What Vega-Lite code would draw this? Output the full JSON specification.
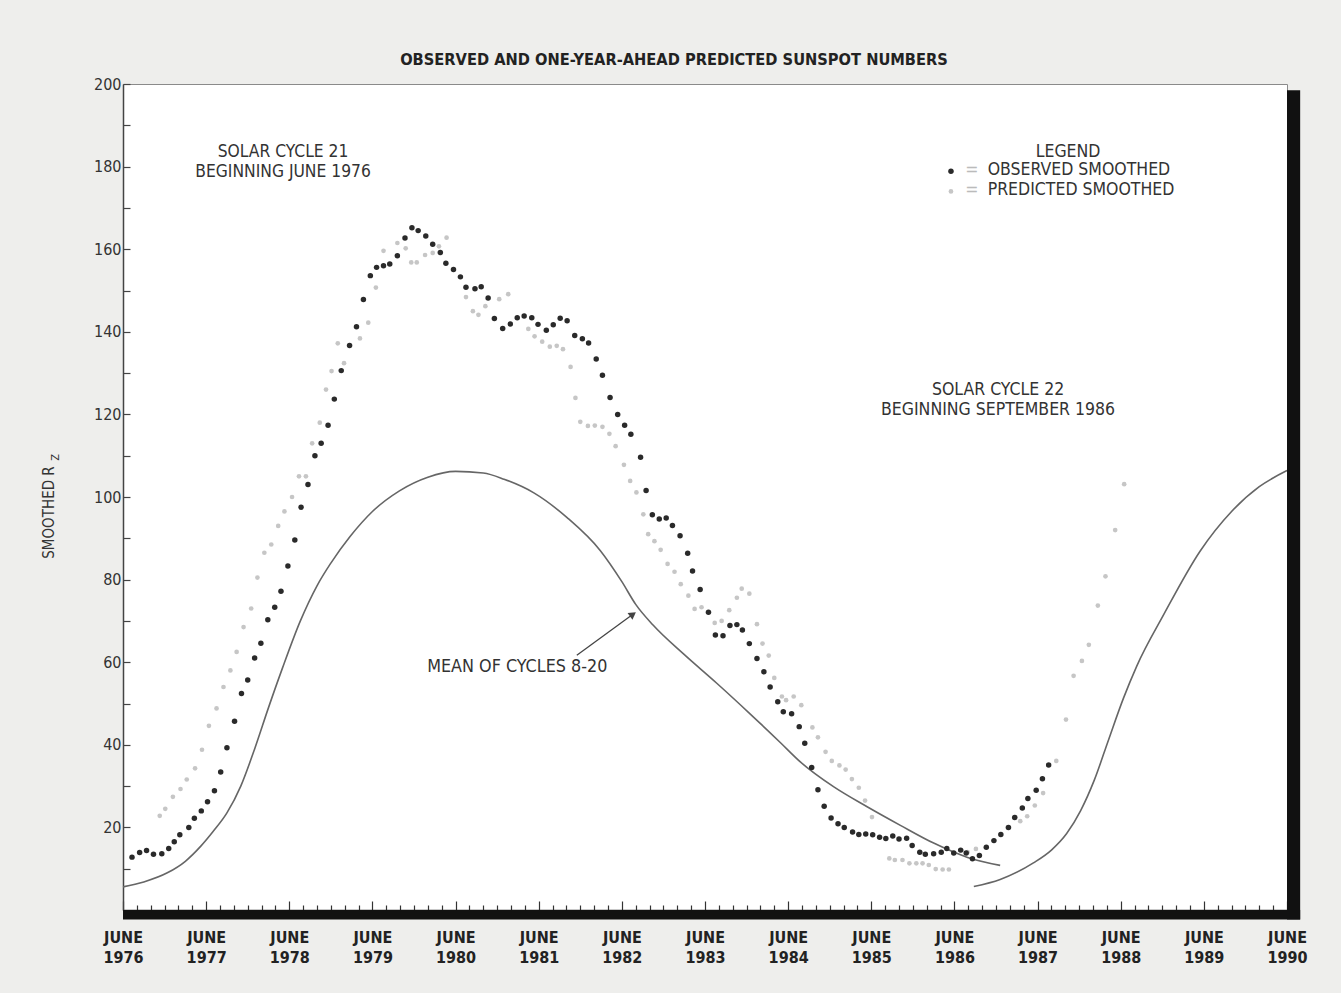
{
  "$schema": "https://vega.github.io/schema/vega-lite/v6.json",
  "autosize": {"type": "none"},
  "width": 1164,
  "height": 826,
  "padding": {"left": 123, "top": 84, "right": 54, "bottom": 83},
  "background": "#eeeeec",
  "title": {
    "text": "OBSERVED AND ONE-YEAR-AHEAD PREDICTED SUNSPOT NUMBERS",
    "anchor": "middle",
    "dx": -31,
    "offset": 8,
    "font": "DejaVu Sans Condensed",
    "fontSize": 16.3,
    "fontWeight": "bold",
    "color": "#222222"
  },
  "config": {
    "view": {"fill": "white", "stroke": "#8a8a8a", "strokeWidth": 1},
    "font": "DejaVu Sans Condensed"
  },
  "datasets": {
    "observed": [
      {"month": 1.3, "rz": 12.8}, {"month": 2.4, "rz": 13.9}, {"month": 3.4, "rz": 14.4}, {"month": 4.4, "rz": 13.5},
      {"month": 5.6, "rz": 13.6}, {"month": 6.6, "rz": 14.9}, {"month": 7.4, "rz": 16.5}, {"month": 8.2, "rz": 18.2},
      {"month": 9.5, "rz": 20.0}, {"month": 10.3, "rz": 22.2}, {"month": 11.3, "rz": 24.0}, {"month": 12.2, "rz": 26.2},
      {"month": 13.2, "rz": 28.9}, {"month": 14.1, "rz": 33.4}, {"month": 15.0, "rz": 39.3}, {"month": 16.1, "rz": 45.7},
      {"month": 17.1, "rz": 52.4}, {"month": 18.0, "rz": 55.7}, {"month": 19.0, "rz": 61.0}, {"month": 19.9, "rz": 64.6},
      {"month": 20.9, "rz": 70.3}, {"month": 21.9, "rz": 73.3}, {"month": 22.8, "rz": 77.2}, {"month": 23.8, "rz": 83.3},
      {"month": 24.8, "rz": 89.6}, {"month": 25.7, "rz": 97.5}, {"month": 26.7, "rz": 103.0}, {"month": 27.7, "rz": 110.0},
      {"month": 28.6, "rz": 113.0}, {"month": 29.6, "rz": 117.4}, {"month": 30.5, "rz": 123.7}, {"month": 31.5, "rz": 130.6},
      {"month": 32.7, "rz": 136.7}, {"month": 33.7, "rz": 141.2}, {"month": 34.7, "rz": 147.8}, {"month": 35.7, "rz": 153.6},
      {"month": 36.6, "rz": 155.6}, {"month": 37.6, "rz": 156.0}, {"month": 38.5, "rz": 156.4}, {"month": 39.6, "rz": 158.4},
      {"month": 40.7, "rz": 162.7}, {"month": 41.7, "rz": 165.2}, {"month": 42.6, "rz": 164.5}, {"month": 43.7, "rz": 163.2},
      {"month": 44.7, "rz": 161.2}, {"month": 45.8, "rz": 159.2}, {"month": 46.6, "rz": 156.6}, {"month": 47.7, "rz": 155.1},
      {"month": 48.7, "rz": 153.3}, {"month": 49.5, "rz": 150.8}, {"month": 50.8, "rz": 150.4}, {"month": 51.7, "rz": 150.9},
      {"month": 52.7, "rz": 148.2}, {"month": 53.6, "rz": 143.2}, {"month": 54.8, "rz": 140.8}, {"month": 55.9, "rz": 141.9},
      {"month": 56.9, "rz": 143.4}, {"month": 57.9, "rz": 143.8}, {"month": 59.0, "rz": 143.4}, {"month": 59.9, "rz": 141.8},
      {"month": 61.1, "rz": 140.4}, {"month": 62.1, "rz": 141.7}, {"month": 63.1, "rz": 143.3}, {"month": 64.1, "rz": 142.7},
      {"month": 65.2, "rz": 139.1}, {"month": 66.3, "rz": 138.3}, {"month": 67.2, "rz": 137.3}, {"month": 68.3, "rz": 133.4},
      {"month": 69.2, "rz": 129.5}, {"month": 70.3, "rz": 124.1}, {"month": 71.4, "rz": 120.0}, {"month": 72.4, "rz": 117.4},
      {"month": 73.3, "rz": 115.2}, {"month": 74.7, "rz": 109.6}, {"month": 75.5, "rz": 101.6}, {"month": 76.4, "rz": 95.7},
      {"month": 77.4, "rz": 94.7}, {"month": 78.4, "rz": 94.9}, {"month": 79.3, "rz": 93.1}, {"month": 80.4, "rz": 90.6},
      {"month": 81.5, "rz": 86.4}, {"month": 82.2, "rz": 82.1}, {"month": 83.3, "rz": 77.6}, {"month": 84.5, "rz": 72.1},
      {"month": 85.5, "rz": 66.6}, {"month": 86.6, "rz": 66.4}, {"month": 87.6, "rz": 68.9}, {"month": 88.6, "rz": 69.1},
      {"month": 89.4, "rz": 67.8}, {"month": 90.4, "rz": 64.5}, {"month": 91.5, "rz": 60.9}, {"month": 92.5, "rz": 57.7},
      {"month": 93.4, "rz": 54.0}, {"month": 94.5, "rz": 50.4}, {"month": 95.3, "rz": 48.0}, {"month": 96.5, "rz": 47.5},
      {"month": 97.6, "rz": 44.4}, {"month": 98.4, "rz": 40.4}, {"month": 99.4, "rz": 34.5}, {"month": 100.3, "rz": 29.1},
      {"month": 101.2, "rz": 25.1}, {"month": 102.2, "rz": 22.3}, {"month": 103.2, "rz": 20.9}, {"month": 104.1, "rz": 20.0},
      {"month": 105.3, "rz": 18.9}, {"month": 106.2, "rz": 18.3}, {"month": 107.2, "rz": 18.4}, {"month": 108.2, "rz": 18.2},
      {"month": 109.2, "rz": 17.6}, {"month": 110.1, "rz": 17.3}, {"month": 111.1, "rz": 17.9}, {"month": 112.0, "rz": 17.2},
      {"month": 113.1, "rz": 17.4}, {"month": 113.9, "rz": 15.6}, {"month": 115.0, "rz": 14.0}, {"month": 115.8, "rz": 13.5},
      {"month": 117.0, "rz": 13.6}, {"month": 118.1, "rz": 14.0}, {"month": 118.9, "rz": 14.9}, {"month": 119.9, "rz": 13.8},
      {"month": 120.9, "rz": 14.5}, {"month": 121.7, "rz": 13.8}, {"month": 122.6, "rz": 12.4}, {"month": 123.6, "rz": 13.2},
      {"month": 124.6, "rz": 15.2}, {"month": 125.7, "rz": 16.8}, {"month": 126.7, "rz": 18.3}, {"month": 127.8, "rz": 20.0},
      {"month": 128.7, "rz": 22.4}, {"month": 129.8, "rz": 24.7}, {"month": 130.6, "rz": 27.0}, {"month": 131.8, "rz": 29.0},
      {"month": 132.7, "rz": 31.8}, {"month": 133.6, "rz": 35.1}
    ],
    "predicted": [
      {"month": 5.3, "rz": 22.8}, {"month": 6.1, "rz": 24.5}, {"month": 7.2, "rz": 27.4}, {"month": 8.3, "rz": 29.3},
      {"month": 9.2, "rz": 31.6}, {"month": 10.4, "rz": 34.3}, {"month": 11.4, "rz": 38.8}, {"month": 12.4, "rz": 44.6},
      {"month": 13.5, "rz": 48.8}, {"month": 14.5, "rz": 54.0}, {"month": 15.5, "rz": 58.0}, {"month": 16.4, "rz": 62.5},
      {"month": 17.4, "rz": 68.5}, {"month": 18.5, "rz": 73.0}, {"month": 19.4, "rz": 80.5}, {"month": 20.4, "rz": 86.5},
      {"month": 21.4, "rz": 88.5}, {"month": 22.4, "rz": 93.0}, {"month": 23.3, "rz": 96.5}, {"month": 24.4, "rz": 100.0},
      {"month": 25.4, "rz": 105.0}, {"month": 26.4, "rz": 105.0}, {"month": 27.3, "rz": 113.0}, {"month": 28.4, "rz": 118.0},
      {"month": 29.3, "rz": 126.0}, {"month": 30.1, "rz": 130.5}, {"month": 31.0, "rz": 137.2}, {"month": 31.9, "rz": 132.4},
      {"month": 34.2, "rz": 138.4}, {"month": 35.4, "rz": 142.2}, {"month": 36.5, "rz": 150.7}, {"month": 37.6, "rz": 159.6},
      {"month": 39.6, "rz": 161.5}, {"month": 40.8, "rz": 160.2}, {"month": 41.6, "rz": 156.8}, {"month": 42.4, "rz": 156.8},
      {"month": 43.6, "rz": 158.6}, {"month": 44.7, "rz": 159.1}, {"month": 45.6, "rz": 160.7}, {"month": 46.7, "rz": 162.8},
      {"month": 49.5, "rz": 148.4}, {"month": 50.5, "rz": 145.0}, {"month": 51.3, "rz": 144.1}, {"month": 52.3, "rz": 146.2},
      {"month": 54.3, "rz": 147.9}, {"month": 55.6, "rz": 149.1}, {"month": 58.5, "rz": 140.7}, {"month": 59.4, "rz": 138.9},
      {"month": 60.5, "rz": 137.6}, {"month": 61.6, "rz": 136.4}, {"month": 62.6, "rz": 136.6}, {"month": 63.5, "rz": 135.8},
      {"month": 64.6, "rz": 131.5}, {"month": 65.3, "rz": 124.0}, {"month": 66.0, "rz": 118.2}, {"month": 67.1, "rz": 117.2},
      {"month": 68.1, "rz": 117.3}, {"month": 69.2, "rz": 117.0}, {"month": 70.2, "rz": 115.3}, {"month": 71.1, "rz": 112.3},
      {"month": 72.3, "rz": 107.8}, {"month": 73.2, "rz": 103.9}, {"month": 74.1, "rz": 101.1}, {"month": 75.1, "rz": 95.8},
      {"month": 75.8, "rz": 91.0}, {"month": 76.7, "rz": 89.3}, {"month": 77.6, "rz": 87.2}, {"month": 78.6, "rz": 83.8},
      {"month": 79.6, "rz": 81.9}, {"month": 80.5, "rz": 78.9}, {"month": 81.6, "rz": 76.1}, {"month": 82.5, "rz": 72.9},
      {"month": 83.5, "rz": 73.3}, {"month": 85.4, "rz": 69.5}, {"month": 86.4, "rz": 70.0}, {"month": 87.5, "rz": 72.6},
      {"month": 88.6, "rz": 75.6}, {"month": 89.3, "rz": 77.8}, {"month": 90.4, "rz": 76.6}, {"month": 91.5, "rz": 69.2},
      {"month": 92.3, "rz": 64.5}, {"month": 93.2, "rz": 61.6}, {"month": 94.0, "rz": 56.2}, {"month": 95.1, "rz": 51.7},
      {"month": 95.7, "rz": 50.8}, {"month": 96.8, "rz": 51.7}, {"month": 97.9, "rz": 49.6}, {"month": 99.5, "rz": 44.2},
      {"month": 100.3, "rz": 41.8}, {"month": 101.4, "rz": 38.3}, {"month": 102.3, "rz": 36.1}, {"month": 103.4, "rz": 35.0},
      {"month": 104.3, "rz": 34.0}, {"month": 105.2, "rz": 31.7}, {"month": 106.2, "rz": 29.6}, {"month": 107.1, "rz": 26.5},
      {"month": 108.1, "rz": 22.5}, {"month": 110.6, "rz": 12.5}, {"month": 111.4, "rz": 12.1}, {"month": 112.5, "rz": 12.1},
      {"month": 113.5, "rz": 11.3}, {"month": 114.5, "rz": 11.3}, {"month": 115.4, "rz": 11.3}, {"month": 116.3, "rz": 10.9},
      {"month": 117.3, "rz": 9.9}, {"month": 118.3, "rz": 9.8}, {"month": 119.2, "rz": 9.8}, {"month": 121.0, "rz": 14.4},
      {"month": 121.9, "rz": 14.0}, {"month": 123.1, "rz": 14.8}, {"month": 127.7, "rz": 20.0}, {"month": 128.8, "rz": 22.5},
      {"month": 129.5, "rz": 21.5}, {"month": 130.5, "rz": 22.7}, {"month": 131.6, "rz": 25.3}, {"month": 132.8, "rz": 28.3},
      {"month": 134.7, "rz": 36.1}, {"month": 136.1, "rz": 46.1}, {"month": 137.2, "rz": 56.7}, {"month": 138.4, "rz": 60.3},
      {"month": 139.4, "rz": 64.2}, {"month": 140.7, "rz": 73.7}, {"month": 141.8, "rz": 80.8}, {"month": 143.2, "rz": 92.0},
      {"month": 144.5, "rz": 103.1}
    ],
    "meanCycle": [
      {"cycle": 21, "month": 0.0, "rz": 5.6}, {"cycle": 21, "month": 3.0, "rz": 6.8}, {"cycle": 21, "month": 6.4, "rz": 9.0},
      {"cycle": 21, "month": 9.0, "rz": 11.8}, {"cycle": 21, "month": 11.2, "rz": 15.4}, {"cycle": 21, "month": 13.0, "rz": 19.0},
      {"cycle": 21, "month": 15.0, "rz": 23.5}, {"cycle": 21, "month": 17.0, "rz": 30.0}, {"cycle": 21, "month": 19.0, "rz": 39.0},
      {"cycle": 21, "month": 21.0, "rz": 49.0}, {"cycle": 21, "month": 23.0, "rz": 58.5}, {"cycle": 21, "month": 25.6, "rz": 70.0},
      {"cycle": 21, "month": 28.0, "rz": 78.5}, {"cycle": 21, "month": 30.0, "rz": 84.0}, {"cycle": 21, "month": 32.8, "rz": 90.5},
      {"cycle": 21, "month": 36.0, "rz": 96.5}, {"cycle": 21, "month": 39.9, "rz": 101.5}, {"cycle": 21, "month": 44.0, "rz": 104.8},
      {"cycle": 21, "month": 48.0, "rz": 106.2}, {"cycle": 21, "month": 52.0, "rz": 105.8}, {"cycle": 21, "month": 55.0, "rz": 104.3},
      {"cycle": 21, "month": 59.3, "rz": 101.0}, {"cycle": 21, "month": 64.1, "rz": 95.0}, {"cycle": 21, "month": 68.9, "rz": 87.0},
      {"cycle": 21, "month": 72.0, "rz": 79.5}, {"cycle": 21, "month": 74.0, "rz": 74.0}, {"cycle": 21, "month": 76.5, "rz": 69.0},
      {"cycle": 21, "month": 80.9, "rz": 62.0}, {"cycle": 21, "month": 85.7, "rz": 54.9}, {"cycle": 21, "month": 90.5, "rz": 47.5},
      {"cycle": 21, "month": 94.9, "rz": 40.5}, {"cycle": 21, "month": 97.8, "rz": 35.8}, {"cycle": 21, "month": 102.6, "rz": 29.8},
      {"cycle": 21, "month": 107.4, "rz": 25.0}, {"cycle": 21, "month": 112.2, "rz": 20.5}, {"cycle": 21, "month": 117.0, "rz": 16.2},
      {"cycle": 21, "month": 121.8, "rz": 12.8}, {"cycle": 21, "month": 126.6, "rz": 10.8},
      {"cycle": 22, "month": 122.8, "rz": 5.7}, {"cycle": 22, "month": 126.6, "rz": 7.4}, {"cycle": 22, "month": 131.4, "rz": 11.4},
      {"cycle": 22, "month": 134.0, "rz": 14.5}, {"cycle": 22, "month": 136.2, "rz": 18.5}, {"cycle": 22, "month": 138.2, "rz": 24.0},
      {"cycle": 22, "month": 140.2, "rz": 31.5}, {"cycle": 22, "month": 142.2, "rz": 41.0}, {"cycle": 22, "month": 144.4, "rz": 51.3},
      {"cycle": 22, "month": 146.3, "rz": 59.0}, {"cycle": 22, "month": 150.2, "rz": 71.5}, {"cycle": 22, "month": 155.5, "rz": 87.0},
      {"cycle": 22, "month": 160.0, "rz": 96.5}, {"cycle": 22, "month": 164.0, "rz": 102.5}, {"cycle": 22, "month": 168.0, "rz": 106.4}
    ]
  },
  "layer": [
    {
      "data": {"name": "meanCycle"},
      "mark": {"type": "line", "interpolate": "monotone", "color": "#666666", "strokeWidth": 1.6},
      "encoding": {
        "x": {
          "field": "month",
          "type": "quantitative",
          "scale": {"domain": [0, 168], "nice": false, "zero": false},
          "axis": {
            "title": null,
            "grid": false,
            "tickCount": 200,
            "values": [0, 2, 4, 6, 8, 10, 12, 14, 16, 18, 20, 22, 24, 26, 28, 30, 32, 34, 36, 38, 40, 42, 44, 46, 48, 50, 52, 54, 56, 58, 60, 62, 64, 66, 68, 70, 72, 74, 76, 78, 80, 82, 84, 86, 88, 90, 92, 94, 96, 98, 100, 102, 104, 106, 108, 110, 112, 114, 116, 118, 120, 122, 124, 126, 128, 130, 132, 134, 136, 138, 140, 142, 144, 146, 148, 150, 152, 154, 156, 158, 160, 162, 164, 166, 168],
            "labelExpr": "datum.value % 12 === 0 ? ['JUNE', '' + (1976 + datum.value / 12)] : ''",
            "labelOverlap": false,
            "labelBound": false,
            "labelFlush": false,
            "labelFont": "DejaVu Sans Condensed",
            "labelFontSize": 16,
            "labelFontWeight": "bold",
            "labelColor": "#222222",
            "labelLineHeight": 20,
            "labelPadding": 28,
            "domainColor": "#222222",
            "domainWidth": 1.5,
            "tickColor": "#333333",
            "tickWidth": 1.2,
            "tickSize": {"condition": {"test": "datum.value % 12 === 0", "value": -9}, "value": -5}
          }
        },
        "y": {
          "field": "rz",
          "type": "quantitative",
          "scale": {"domain": [0, 200], "nice": false},
          "axis": {
            "title": "SMOOTHED R",
            "titleFont": "DejaVu Sans Condensed",
            "titleFontSize": 15,
            "titleFontWeight": "normal",
            "titleColor": "#333333",
            "titleAngle": -90,
            "titleAlign": "center",
            "titleBaseline": "middle",
            "titleX": -75,
            "titleY": 428,
            "grid": false,
            "tickCount": 50,
            "values": [10, 20, 30, 40, 50, 60, 70, 80, 90, 100, 110, 120, 130, 140, 150, 160, 170, 180, 190, 200],
            "labelExpr": "datum.value % 20 === 0 ? datum.label : ''",
            "labelFont": "DejaVu Sans Condensed",
            "labelFontSize": 16,
            "labelColor": "#333333",
            "labelPadding": 9,
            "domainColor": "#444444",
            "domainWidth": 1.5,
            "tickColor": "#444444",
            "tickWidth": 1.2,
            "tickSize": -7
          }
        },
        "detail": {"field": "cycle", "type": "nominal"}
      }
    },
    {
      "data": {"name": "predicted"},
      "mark": {"type": "point", "filled": true, "size": 22, "color": "#c6c6c6", "opacity": 1},
      "encoding": {
        "x": {"field": "month", "type": "quantitative"},
        "y": {"field": "rz", "type": "quantitative"}
      }
    },
    {
      "data": {"name": "observed"},
      "mark": {"type": "point", "filled": true, "size": 30, "color": "#2a2a2a", "opacity": 1},
      "encoding": {
        "x": {"field": "month", "type": "quantitative"},
        "y": {"field": "rz", "type": "quantitative"}
      }
    },
    {
      "data": {"values": [{}]},
      "mark": {"type": "rect", "color": "#111111"},
      "encoding": {
        "x": {"datum": 0, "type": "quantitative"},
        "x2": {"datum": 169.9},
        "y": {"datum": 0, "type": "quantitative"},
        "y2": {"datum": -2.3}
      }
    },
    {
      "data": {"values": [{}]},
      "mark": {"type": "rect", "color": "#111111"},
      "encoding": {
        "x": {"datum": 168, "type": "quantitative"},
        "x2": {"datum": 169.9},
        "y": {"datum": -2.3, "type": "quantitative"},
        "y2": {"datum": 198.5}
      }
    },
    {
      "data": {"values": [{}]},
      "mark": {"type": "text", "text": ["SOLAR CYCLE 21", "BEGINNING JUNE 1976"], "fontSize": 17.3, "lineHeight": 20, "color": "#333333", "align": "center", "baseline": "middle"},
      "encoding": {"x": {"datum": 23.1, "type": "quantitative"}, "y": {"datum": 183.5, "type": "quantitative"}}
    },
    {
      "data": {"values": [{}]},
      "mark": {"type": "text", "text": ["SOLAR CYCLE 22", "BEGINNING SEPTEMBER 1986"], "fontSize": 17.5, "lineHeight": 20, "color": "#333333", "align": "center", "baseline": "middle"},
      "encoding": {"x": {"datum": 126.3, "type": "quantitative"}, "y": {"datum": 125.9, "type": "quantitative"}}
    },
    {
      "data": {"values": [{}]},
      "mark": {"type": "text", "text": "MEAN OF CYCLES 8-20", "fontSize": 17.8, "color": "#333333", "align": "center", "baseline": "middle"},
      "encoding": {"x": {"datum": 56.9, "type": "quantitative"}, "y": {"datum": 58.8, "type": "quantitative"}}
    },
    {
      "data": {"values": [{}]},
      "mark": {"type": "rule", "color": "#444444", "strokeWidth": 1.3},
      "encoding": {
        "x": {"datum": 65.5, "type": "quantitative"},
        "y": {"datum": 61.7, "type": "quantitative"},
        "x2": {"datum": 73.6},
        "y2": {"datum": 71.6}
      }
    },
    {
      "data": {"values": [{}]},
      "mark": {"type": "point", "shape": "triangle-up", "filled": true, "size": 70, "angle": 54, "color": "#444444", "opacity": 1},
      "encoding": {"x": {"datum": 73.6, "type": "quantitative"}, "y": {"datum": 71.6, "type": "quantitative"}}
    },
    {
      "data": {"values": [{}]},
      "mark": {"type": "text", "text": "LEGEND", "fontSize": 17.5, "color": "#333333", "align": "center", "baseline": "middle"},
      "encoding": {"x": {"datum": 136.4, "type": "quantitative"}, "y": {"datum": 183.5, "type": "quantitative"}}
    },
    {
      "data": {"values": [{}]},
      "mark": {"type": "point", "filled": true, "size": 30, "color": "#2a2a2a", "opacity": 1},
      "encoding": {"x": {"datum": 119.5, "type": "quantitative"}, "y": {"datum": 178.9, "type": "quantitative"}}
    },
    {
      "data": {"values": [{}]},
      "mark": {"type": "point", "filled": true, "size": 22, "color": "#c6c6c6", "opacity": 1},
      "encoding": {"x": {"datum": 119.5, "type": "quantitative"}, "y": {"datum": 174.0, "type": "quantitative"}}
    },
    {
      "data": {"values": [{}]},
      "mark": {"type": "text", "text": ["=", "="], "fontSize": 17.5, "lineHeight": 20, "color": "#bbbbbb", "align": "center", "baseline": "middle"},
      "encoding": {"x": {"datum": 122.5, "type": "quantitative"}, "y": {"datum": 179.1, "type": "quantitative"}}
    },
    {
      "data": {"values": [{}]},
      "mark": {"type": "text", "text": ["OBSERVED SMOOTHED", "PREDICTED SMOOTHED"], "fontSize": 17.5, "lineHeight": 20, "color": "#333333", "align": "left", "baseline": "middle"},
      "encoding": {"x": {"datum": 124.8, "type": "quantitative"}, "y": {"datum": 179.1, "type": "quantitative"}}
    },
    {
      "data": {"values": [{}]},
      "mark": {"type": "text", "text": "Z", "fontSize": 11, "angle": 270, "color": "#333333", "align": "center", "baseline": "middle"},
      "encoding": {"x": {"datum": -9.6, "type": "quantitative"}, "y": {"datum": 109.6, "type": "quantitative"}}
    }
  ]
}
